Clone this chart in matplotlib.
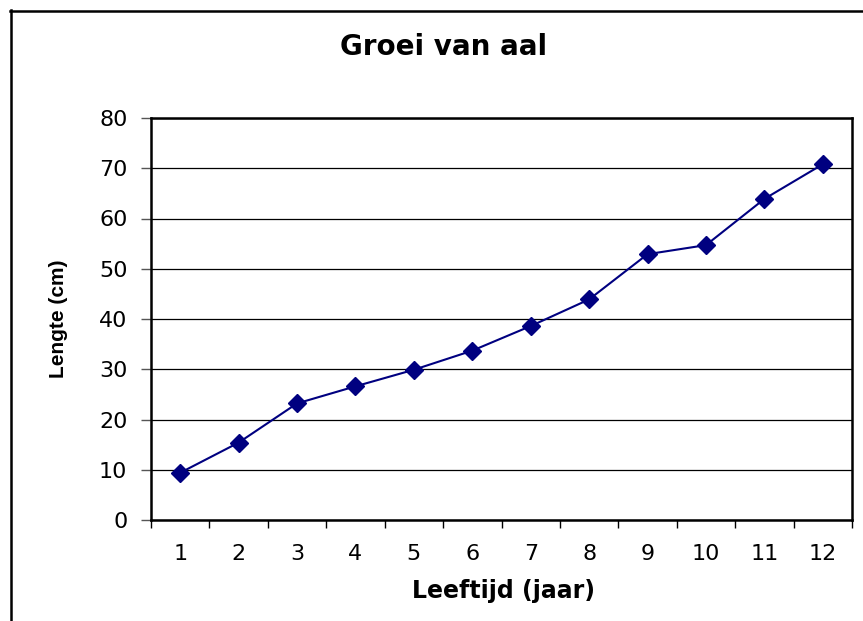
import matplotlib
matplotlib.use("Agg")
import matplotlib.pyplot as plt
from matplotlib.lines import Line2D

plt.rcParams['font.family'] = ['DejaVu Sans']

ages = [1, 2, 3, 4, 5, 6, 7, 8, 9, 10, 11, 12]
lengths = [9.4, 15.4, 23.2, 26.6, 29.9, 33.7, 38.6, 43.9, 52.9, 54.7, 63.9, 70.8]
yticks = [0, 10, 20, 30, 40, 50, 60, 70, 80]

W, H = 863, 621
fig = plt.figure(figsize=(W / 100, H / 100), dpi=100)
ax = fig.add_axes([151 / W, 1 - 520 / H, (852 - 151) / W, (520 - 118) / H])

ax.plot(ages, lengths, color='#000080', lw=1.5, marker='D', markersize=9,
        markerfacecolor='#000080', markeredgecolor='#000080', zorder=3, clip_on=False)

ax.set_xlim(0.5, 12.5)
ax.set_ylim(0, 80)
ax.set_yticks(yticks)
ax.set_xticks(ages)
ax.set_xticklabels([str(a) for a in ages])
ax.set_xticks([a - 0.5 for a in ages] + [12.5], minor=True)
ax.tick_params(axis='x', which='major', length=0, pad=17, labelsize=16)
ax.tick_params(axis='x', which='minor', length=6, width=1, color='black', direction='out')
ax.tick_params(axis='y', which='major', length=7, width=1, color='#555555', pad=10, labelsize=16)

ax.yaxis.grid(True, color='black', lw=0.9)
ax.set_axisbelow(True)
for s in ax.spines.values():
    s.set_linewidth(1.8)
    s.set_color('black')

fig.text(444 / W, 1 - 47 / H, 'Groei van aal', ha='center', va='center',
         fontsize=20, fontweight='bold')
fig.text(503 / W, 1 - 591 / H, 'Leeftijd (jaar)', ha='center', va='center',
         fontsize=17, fontweight='bold')
fig.text(58 / W, 1 - 319 / H, 'Lengte (cm)', ha='center', va='center',
         fontsize=15, fontweight='bold', rotation=90,
         family=['Liberation Sans', 'DejaVu Sans'])

fig.add_artist(Line2D([11 / W, 11 / W], [0, 1 - 10 / H], color='black', lw=1.8,
                      transform=fig.transFigure))
fig.add_artist(Line2D([10 / W, 1], [1 - 11 / H, 1 - 11 / H], color='black', lw=1.8,
                      transform=fig.transFigure))

fig.savefig('out.png', dpi=100)
